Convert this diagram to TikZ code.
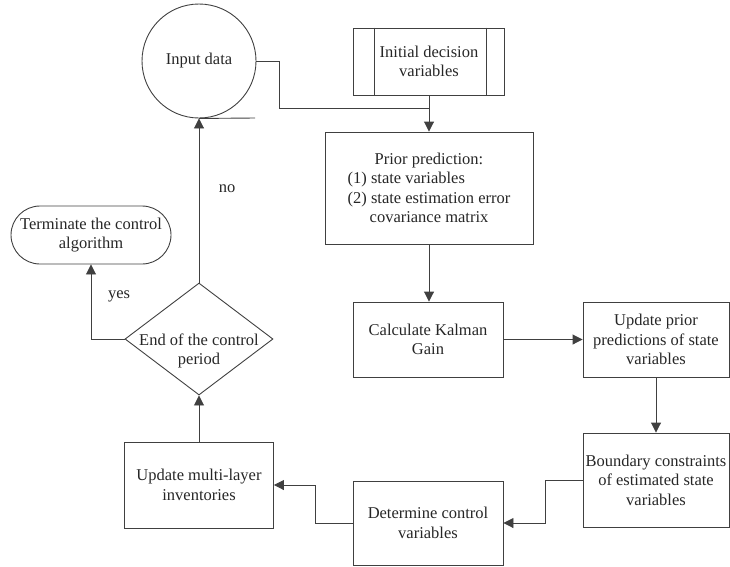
\documentclass[tikz,border=0pt]{standalone}
\usepackage{fontspec}
\setmainfont{Liberation Serif}
\usetikzlibrary{shapes.geometric,arrows.meta}
\begin{document}
\begin{tikzpicture}[x=1pt,y=-1pt,
  every node/.style={font=\fontsize{16.5}{19.5}\selectfont, text=black!85, align=center},
  box/.style={draw=black!75, line width=0.9pt, rectangle, inner sep=0pt},
  conn/.style={draw=black!75, line width=0.9pt},
  arr/.style={conn, -{Triangle[length=10pt,width=10pt]}}]
\useasboundingbox (0,0) rectangle (730,566);

% nodes
\node[box, circle, minimum size=114pt] (inp) at (199,61) {Input data};
\node[box, minimum width=151pt, minimum height=67pt] (init) at (429,61.5) {Initial decision\\variables};
\node[box, minimum width=208pt, minimum height=112pt] (prior) at (429,188)
  {Prior prediction:\\\rlap{(1) state variables}\phantom{(2) state estimation error}\\(2) state estimation error\\covariance matrix};
\node[box, minimum width=150pt, minimum height=75pt] (kal) at (428,339.5) {Calculate Kalman\\Gain};
\node[box, minimum width=146pt, minimum height=75pt] (upd) at (656,339.5) {Update prior\\predictions of state\\variables};
\node[box, minimum width=146pt, minimum height=94pt] (bnd) at (656,480) {Boundary constraints\\of estimated state\\variables};
\node[box, minimum width=150pt, minimum height=84pt] (det) at (428,523) {Determine control\\variables};
\node[box, minimum width=149pt, minimum height=86pt] (ml) at (199,485) {Update multi-layer\\inventories};
\node[box, diamond, minimum width=148pt, minimum height=112pt] (dia) at (199,339) {};
\node (diatext) at (199,351) {End of the control\\period};
\node[box, rounded corners=29pt, minimum width=160pt, minimum height=58pt] (term) at (91,235) {Terminate the control\\algorithm};

% inner lines of the predefined-process box
\draw[conn] ([xshift=21pt]init.north west) -- ([xshift=21pt]init.south west);
\draw[conn] ([xshift=-19pt]init.north east) -- ([xshift=-19pt]init.south east);

% connectors
\coordinate (ul) at (255,118);
\coordinate (jn) at (429,108);
\draw[conn] (inp.south) -- (ul);
\draw[conn] (inp.east) -- ++(23,0) |- (jn);
\draw[arr] (init.south) -- (prior.north);
\draw[arr] (prior.south) -- (prior.south |- kal.north);
\draw[arr] (kal.east) -- (upd.west);
\draw[arr] (upd.south) -- (bnd.north);
\draw[arr] (bnd.west) -- ++(-37,0) |- (det.east);
\draw[arr] (det.west) -- ++(-37,0) |- (ml.east);
\draw[arr] (ml.north) -- (dia.south);
\draw[arr] (dia.north) -- (inp.south);
\draw[arr] (dia.west) -| (term.south);

% labels
\node (no) at (227,189) {no};
\node (yes) at (119,296) {yes};
\end{tikzpicture}
\end{document}
